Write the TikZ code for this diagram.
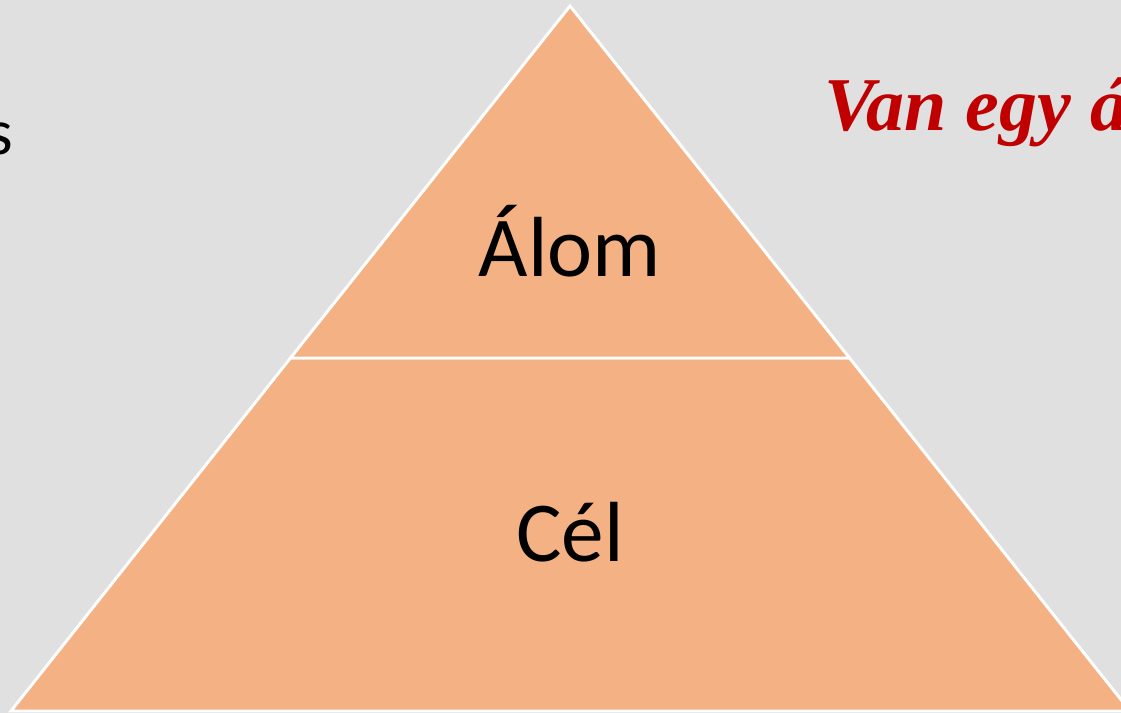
\documentclass[tikz,border=0pt]{standalone}
\usepackage{fontspec}
\setmainfont{Carlito}
\newfontfamily\handfont{Liberation Serif}
\definecolor{bggray}{HTML}{E0E0E0}
\definecolor{tierfill}{HTML}{F4B183}
\definecolor{darkred}{HTML}{C00000}
\tikzset{
  tier/.style={fill=tierfill, draw=white, line width=2.2pt, line join=miter},
  tierlabel/.style={font=\fontsize{64}{70}\selectfont, text=black, inner sep=0pt},
}
\begin{document}
\begin{tikzpicture}[x=0.75pt, y=-0.75pt]
  % canvas
  \fill[bggray] (0,0) rectangle (1121,713);
  \useasboundingbox (0,0) rectangle (1121,713);
  % corners of the pyramid
  \coordinate (apex) at (570,6);
  \coordinate (bl) at (11,711);
  \coordinate (br) at (1130,711);
  \coordinate (ml) at (290.5,358);
  \coordinate (mr) at (849.5,358);
  % lower tier
  \draw[tier] (ml) -- (mr) -- (br) -- (bl) -- cycle;
  % upper tier
  \draw[tier] (apex) -- (mr) -- (ml) -- cycle;
  % labels
  \node[tierlabel, anchor=base] (dream) at (570,276) {Álom};
  \node[tierlabel, anchor=base] (goal) at (570,561) {Cél};
  % side texts
  \node[anchor=base east, inner sep=0pt, font=\fontsize{49}{55}\selectfont] (lefttext) at (13,155) {s};
  \node[anchor=base west, inner sep=0pt, text=darkred,
        font=\handfont\bfseries\itshape\fontsize{57}{64}\selectfont] (motto) at (824,131) {Van egy á};
\end{tikzpicture}
\end{document}
